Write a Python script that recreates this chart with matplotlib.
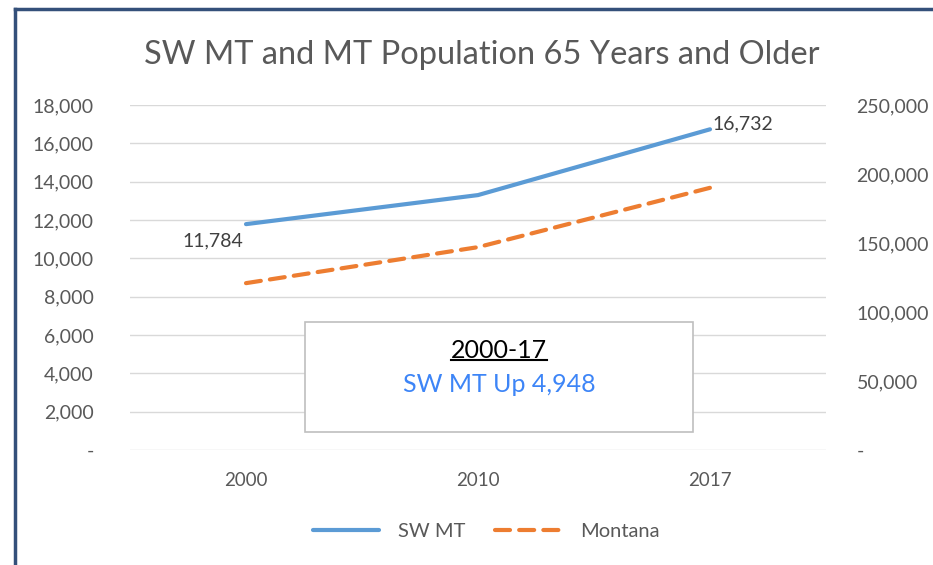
import matplotlib
matplotlib.use("Agg")
from matplotlib import pyplot as plt
from matplotlib.lines import Line2D
from matplotlib.patches import Rectangle
from matplotlib.ticker import FuncFormatter

plt.rcParams['font.family'] = ['Lato', 'DejaVu Sans']

years = ['2000', '2010', '2017']
sw_mt = [11784, 13300, 16732]
montana = [120900, 147000, 190000]
sw_labels = ['11,784', None, '16,732']

blue = '#5b9bd5'
orange = '#ed7d31'
grey = '#595959'

fig = plt.figure(figsize=(9.33, 5.65), dpi=100)
ax = fig.add_axes([130/933, 115/565, 696/933, 345/565])
ax2 = ax.twinx()

x = list(range(len(years)))
l1, = ax.plot(x, sw_mt, color=blue, lw=3, solid_capstyle='round', zorder=3)
l2, = ax2.plot(x, montana, color=orange, lw=3, linestyle=(0, (3.6, 2.2)),
               dash_capstyle='round', zorder=3)

ax.set_xlim(-0.5, 2.5)
ax.set_ylim(0, 18000)
ax.set_yticks(range(0, 18001, 2000))
ax2.set_ylim(0, 250000)
ax2.set_yticks(range(0, 250001, 50000))

fmt = FuncFormatter(lambda v, p: '-' if v == 0 else f'{int(v):,}')
ax.yaxis.set_major_formatter(fmt)
ax2.yaxis.set_major_formatter(fmt)
ax.set_xticks(x)
ax.set_xticklabels(years)

ax.grid(axis='y', color='#d9d9d9', lw=1)
ax.set_axisbelow(True)
for a in (ax, ax2):
    for s in a.spines.values():
        s.set_visible(False)
ax.tick_params(axis='y', length=0, labelsize=14, labelcolor=grey, pad=26)
ax.tick_params(axis='x', length=0, labelsize=13.5, labelcolor=grey, pad=16)
ax2.tick_params(axis='y', length=0, labelsize=14, labelcolor=grey, pad=22)

# data labels
ax.annotate(sw_labels[0], (x[0], sw_mt[0]), xytext=(-24, -12), textcoords='offset points',
            ha='center', va='center', fontsize=14, color='#404040')
ax.annotate(sw_labels[2], (x[2], sw_mt[2]), xytext=(2, 4), textcoords='offset points',
            ha='left', va='center', fontsize=14, color='#404040')

fig.suptitle('SW MT and MT Population 65 Years and Older', x=0.516, y=0.93,
             fontsize=23.5, color=grey)

# text box
fig.patches.append(Rectangle((305/933, 133/565), 388/933, 110/565, transform=fig.transFigure,
                             facecolor='white', edgecolor='#bfbfbf', lw=1.2, zorder=5))
t = fig.text(499/933, 1 - 350/565, '2000-17', ha='center', va='center',
             fontsize=18, color='black', zorder=6)
fig.text(499/933, 1 - 384/565, 'SW MT Up 4,948', ha='center', va='center',
         fontsize=18, color='#3d85f7', zorder=6)
fig.canvas.draw()
bb = t.get_window_extent().transformed(fig.transFigure.inverted())
fig.add_artist(Line2D([bb.x0, bb.x1], [bb.y0 + 0.002, bb.y0 + 0.002], color='black',
                      lw=1.5, transform=fig.transFigure, zorder=6))

# legend
fig.legend([l1, l2], ['SW MT', 'Montana'], loc='center', bbox_to_anchor=(0.521, 1 - 531/565),
           ncol=2, frameon=False, fontsize=14.5, labelcolor=grey, handlelength=3.3,
           columnspacing=1.5, handletextpad=0.9)

# outer border (top and left edges visible)
fig.add_artist(Line2D([15/933, 1], [1 - 9/565, 1 - 9/565], color='#34507a', lw=2.5,
                      transform=fig.transFigure))
fig.add_artist(Line2D([15/933, 15/933], [0, 1 - 9/565], color='#34507a', lw=2.5,
                      transform=fig.transFigure))

fig.savefig('out.png', dpi=100)
